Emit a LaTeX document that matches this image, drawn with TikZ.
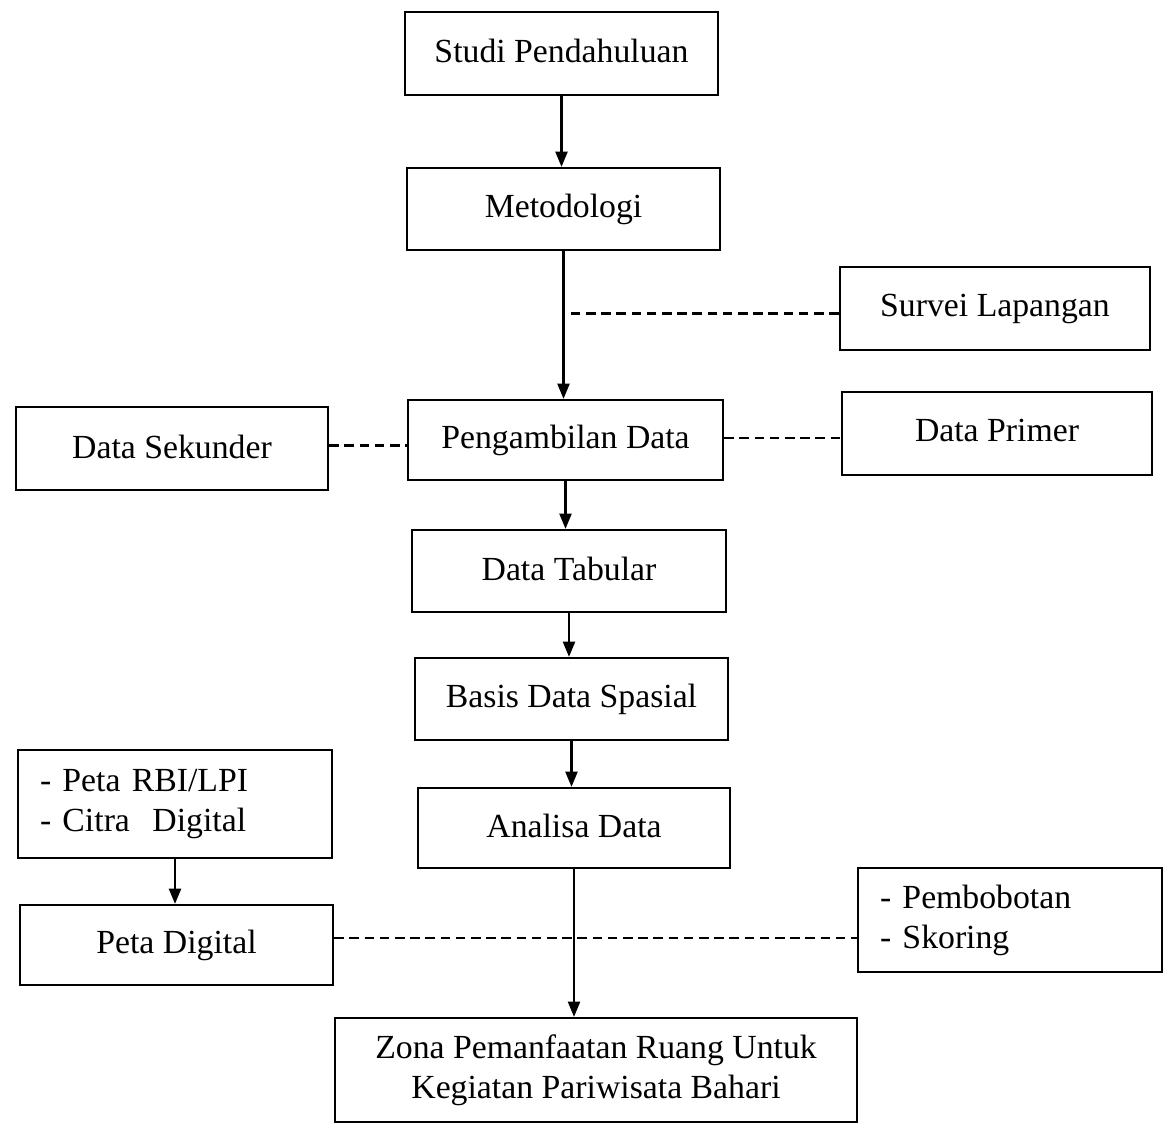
\documentclass[tikz,border=0pt]{standalone}
\usepackage{fontspec}
\setmainfont{Liberation Serif}
\usetikzlibrary{arrows.meta}
\begin{document}
\begin{tikzpicture}[x=0.025cm,y=-0.025cm,
  box/.style={draw, line width=1.6pt, rectangle, inner sep=0pt, align=center,
    font=\fontsize{24}{28.5}\selectfont},
  arr/.style={line width=1.5pt, -{Triangle[length=0.38cm,width=0.3cm]}},
  dsh/.style={line width=1.5pt, dash pattern=on 0.24cm off 0.14cm}]
\useasboundingbox (0,0) rectangle (1163,1124);
\fill[white] (0,0) rectangle (1163,1124);
\node[box, minimum width=313*0.025cm, minimum height=83*0.025cm] (stu) at (561.5,53.5) {\raisebox{4pt}{Studi Pendahuluan}};
\node[box, minimum width=313*0.025cm, minimum height=82*0.025cm] (met) at (563.5,209) {\raisebox{3pt}{Metodologi}};
\node[box, minimum width=310*0.025cm, minimum height=83*0.025cm] (sur) at (995,308.5) {\raisebox{3pt}{Survei Lapangan}};
\node[box, minimum width=315*0.025cm, minimum height=80*0.025cm] (pen) at (565.5,440) {\raisebox{2pt}{Pengambilan Data}};
\node[box, minimum width=312*0.025cm, minimum height=83*0.025cm] (sek) at (172,448.5) {\raisebox{3pt}{Data Sekunder}};
\node[box, minimum width=310*0.025cm, minimum height=83*0.025cm] (pri) at (997,433.5) {\raisebox{4pt}{Data Primer}};
\node[box, minimum width=314*0.025cm, minimum height=82*0.025cm] (tab) at (569,571) {\raisebox{3pt}{Data Tabular}};
\node[box, minimum width=313*0.025cm, minimum height=82*0.025cm] (bas) at (571.5,699) {\raisebox{3pt}{Basis Data Spasial}};
\node[box, minimum width=312*0.025cm, minimum height=80*0.025cm] (ana) at (574,828) {\raisebox{3pt}{Analisa Data}};
\node[box, align=left, text width=270*0.025cm, inner xsep=22*0.025cm, minimum height=108*0.025cm] (rbi) at (175,804) {- Peta RBI/LPI\\- Citra~~Digital};
\node[box, minimum width=313*0.025cm, minimum height=80*0.025cm] (dig) at (176.5,945) {\raisebox{3pt}{Peta Digital}};
\node[box, align=left, text width=260*0.025cm, inner xsep=22*0.025cm, minimum height=104*0.025cm] (bob) at (1010,920) {- Pembobotan\\- Skoring};
\node[box, minimum width=522*0.025cm, minimum height=104*0.025cm] (zon) at (596,1070) {Zona Pemanfaatan Ruang Untuk\\Kegiatan Pariwisata Bahari};
% dashed links
\draw[dsh] ([yshift=-5*0.025cm]sur.west) -- ([yshift=-5*0.025cm]sur.west -| met.south);
\draw[dsh] ([yshift=3*0.025cm]sek.east) -- ([yshift=3*0.025cm]sek.east -| pen.west);
\draw[dsh] ([yshift=2*0.025cm]pen.east) -- ([yshift=2*0.025cm]pen.east -| pri.west);
\draw[dsh] ([yshift=7*0.025cm]dig.east) -- ([yshift=7*0.025cm]dig.east -| bob.west);
% arrows
\draw[arr] (stu.south) -- (stu.south |- met.north);
\draw[arr] (met.south) -- (met.south |- pen.north);
\draw[arr] (pen.south) -- (pen.south |- tab.north);
\draw[arr] (tab.south) -- (tab.south |- bas.north);
\draw[arr] (bas.south) -- (bas.south |- ana.north);
\draw[arr] (ana.south) -- (ana.south |- zon.north);
\draw[arr] (rbi.south) -- (rbi.south |- dig.north);
\end{tikzpicture}
\end{document}
